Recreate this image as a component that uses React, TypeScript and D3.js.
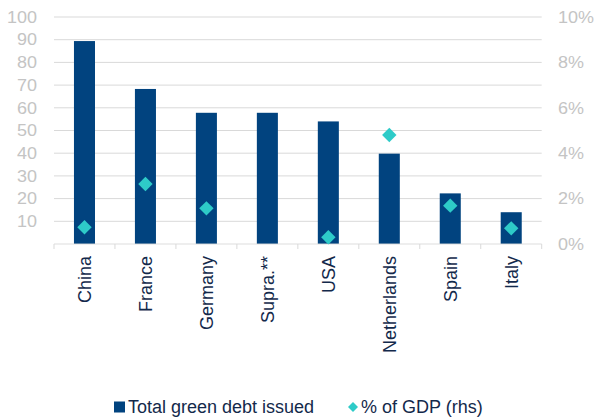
import React from "react";
import * as d3 from "d3";

const categories = ["China", "France", "Germany", "Supra.**", "USA", "Netherlands", "Spain", "Italy"];
const greenDebt = [89.4, 68.3, 57.8, 57.8, 54.0, 39.8, 22.3, 14.0];
const gdpPct: (number | null)[] = [0.74, 2.64, 1.57, null, 0.30, 4.80, 1.69, 0.69];
const leftTicks = [10, 20, 30, 40, 50, 60, 70, 80, 90, 100];
const rightTicks = [0, 2, 4, 6, 8, 10];
const legendLabels = ["Total green debt issued", "% of GDP (rhs)"];

const W = 595;
const H = 419;
const M = { left: 54, right: 541.7, top: 17, bottom: 244 };
const BAR = "#01437F";
const DIAMOND = "#2ECBC8";
const GRID = "#D9D9D9";
const TICK = "#C4C4C4";
const LABEL = "#13294B";
const FONT = "Liberation Sans, Arial, sans-serif";

export default function App() {
  const x = d3.scaleBand<string>().domain(categories).range([M.left, M.right]).padding(0);
  const yL = d3.scaleLinear().domain([0, 100]).range([M.bottom, M.top]);
  const yR = d3.scaleLinear().domain([0, 10]).range([M.bottom, M.top]);
  const bw = x.bandwidth() * 0.345;
  const diamond = (cx: number, cy: number, r: number) =>
    `M${cx},${cy - r}L${cx + r},${cy}L${cx},${cy + r}L${cx - r},${cy}Z`;

  return (
    <svg width={W} height={H} style={{ position: "absolute", left: 0, top: 0, background: "#fff" }} fontFamily={FONT}>
      {leftTicks.map((t) => (
        <line key={"g" + t} x1={M.left} x2={M.right} y1={yL(t)} y2={yL(t)} stroke={GRID} strokeWidth={1} />
      ))}
      {leftTicks.map((t) => (
        <g key={"l" + t} transform={`translate(37,${yL(t)}) scale(1.125,1)`}>
          <text textAnchor="end" dy="0.36em" fontSize={16} fill={TICK}>{t}</text>
        </g>
      ))}
      {rightTicks.map((t) => (
        <g key={"r" + t} transform={`translate(558,${yR(t)}) scale(1.125,1)`}>
          <text textAnchor="start" dy="0.36em" fontSize={16} fill={TICK}>{t + "%"}</text>
        </g>
      ))}
      {categories.map((c, i) => (
        <rect key={"b" + c} x={x(c)! + x.bandwidth() / 2 - bw / 2} y={yL(greenDebt[i])} width={bw}
          height={yL(0) - yL(greenDebt[i])} fill={BAR} />
      ))}
      <line x1={M.left} x2={M.right} y1={M.bottom} y2={M.bottom} stroke={GRID} strokeOpacity={0.6} strokeWidth={1.5} />
      {[...categories.map((c) => x(c)!), M.right].map((px, i) => (
        <line key={"t" + i} x1={px} x2={px} y1={M.bottom} y2={M.bottom + 5} stroke={GRID} strokeWidth={1} />
      ))}
      {categories.map((c, i) =>
        gdpPct[i] == null ? null : (
          <path key={"d" + c} d={diamond(x(c)! + x.bandwidth() / 2, yR(gdpPct[i] as number), 7.2)} fill={DIAMOND} />
        )
      )}
      {categories.map((c) => (
        <text key={"x" + c} transform={`translate(${x(c)! + x.bandwidth() / 2 + 6.5},256) rotate(-90)`}
          textAnchor="end" fontSize={18} fill={LABEL}>{c}</text>
      ))}
      <rect x={114} y={401.5} width={11} height={11} fill={BAR} />
      <text x={128} y={413} fontSize={18} fill={LABEL}>{legendLabels[0]}</text>
      <path d={diamond(353, 407, 5)} fill={DIAMOND} />
      <text x={361} y={413} fontSize={18} fill={LABEL}>{legendLabels[1]}</text>
    </svg>
  );
}
